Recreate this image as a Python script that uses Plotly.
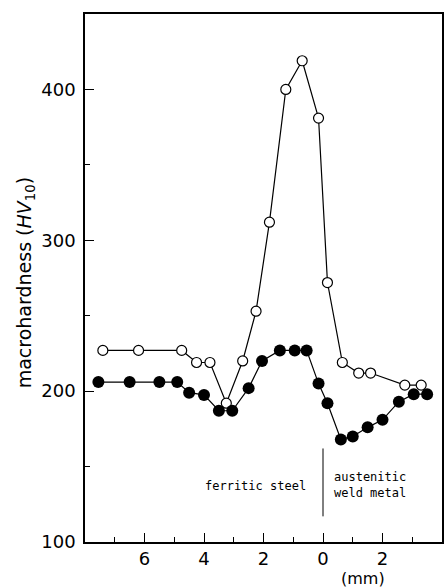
import plotly.graph_objects as go

# distance from fusion line (mm): ferritic steel positive (left), weld metal negative (right)
open_x = [7.4, 6.2, 4.75, 4.25, 3.8, 3.25, 2.7, 2.25, 1.8, 1.25, 0.7, 0.15, -0.15, -0.65, -1.2, -1.6, -2.75, -3.3]
open_y = [227, 227, 227, 219, 219, 192, 220, 253, 312, 400, 419, 381, 272, 219, 212, 212, 204, 204]

filled_x = [7.55, 6.5, 5.5, 4.9, 4.5, 4.0, 3.5, 3.05, 2.5, 2.05, 1.45, 0.95, 0.55, 0.15, -0.15, -0.6, -1.0, -1.5, -2.0, -2.55, -3.05, -3.5]
filled_y = [206, 206, 206, 206, 199, 197.5, 187, 187, 202, 220, 227, 227, 227, 205, 192, 168, 170, 176, 181, 193, 198, 198]

x_tickvals = [6, 4, 2, 0, -2]
x_ticktext = ["6", "4", "2", "0", "2"]
x_minor = [7, 5, 3, 1, -1, -3]
y_tickvals = [100, 200, 300, 400]
y_minor = [150, 250, 350]

FONT = "DejaVu Sans"
MONO = "DejaVu Sans Mono"

fig = go.Figure()
fig.add_trace(go.Scatter(
    x=open_x, y=open_y, mode="lines+markers",
    line=dict(color="black", width=1.2),
    marker=dict(symbol="circle", size=10, color="white", line=dict(color="black", width=1.2)),
    showlegend=False, cliponaxis=False))
fig.add_trace(go.Scatter(
    x=filled_x, y=filled_y, mode="lines+markers",
    line=dict(color="black", width=1.2),
    marker=dict(symbol="circle", size=12, color="black", line=dict(color="black", width=0)),
    showlegend=False, cliponaxis=False))

fig.add_shape(type="line", x0=0, x1=0, y0=117, y1=162, xref="x", yref="y",
              line=dict(color="black", width=1))

fig.add_annotation(x=0.5, y=137, xref="x", yref="y", text="ferritic steel",
                   showarrow=False, xanchor="right", yanchor="middle",
                   font=dict(family=MONO, size=12, color="black"))
fig.add_annotation(x=-0.3, y=138, xref="x", yref="y", text="austenitic<br>weld metal",
                   showarrow=False, xanchor="left", yanchor="middle", align="left",
                   font=dict(family=MONO, size=12, color="black"))
fig.add_annotation(x=-1.35, y=-0.07, xref="x", yref="paper", text="(mm)",
                   showarrow=False, xanchor="center", yanchor="middle",
                   font=dict(family=FONT, size=16, color="black"))
fig.add_annotation(x=-0.168, y=0.49, xref="paper", yref="paper",
                   text="macrohardness (<i>HV</i><sub>10</sub>)", textangle=-90,
                   showarrow=False, xanchor="center", yanchor="middle",
                   font=dict(family=FONT, size=19, color="black"))

fig.update_layout(
    width=445, height=588,
    margin=dict(l=85, r=1, t=14, b=46),
    paper_bgcolor="white", plot_bgcolor="white",
    font=dict(family=FONT, size=17, color="black"),
    xaxis=dict(range=[8, -4], tickvals=x_tickvals, ticktext=x_ticktext,
               ticks="inside", ticklen=9, tickwidth=1, tickcolor="black",
               minor=dict(tickvals=x_minor, ticks="inside", ticklen=5, tickwidth=1, tickcolor="black"),
               showline=True, linecolor="black", linewidth=1.5, mirror=True,
               showgrid=False, zeroline=False, tickfont=dict(size=18)),
    yaxis=dict(range=[100, 450], tickvals=y_tickvals,
               ticks="inside", ticklen=9, tickwidth=1, tickcolor="black",
               minor=dict(tickvals=y_minor, ticks="inside", ticklen=5, tickwidth=1, tickcolor="black"),
               showline=True, linecolor="black", linewidth=1.5, mirror=True,
               showgrid=False, zeroline=False, tickfont=dict(size=18), ticklabelstandoff=4),
)

fig.write_html("out.html", config={"displayModeBar": False},
               post_script="document.body.style.margin='0';document.body.style.padding='0';")
